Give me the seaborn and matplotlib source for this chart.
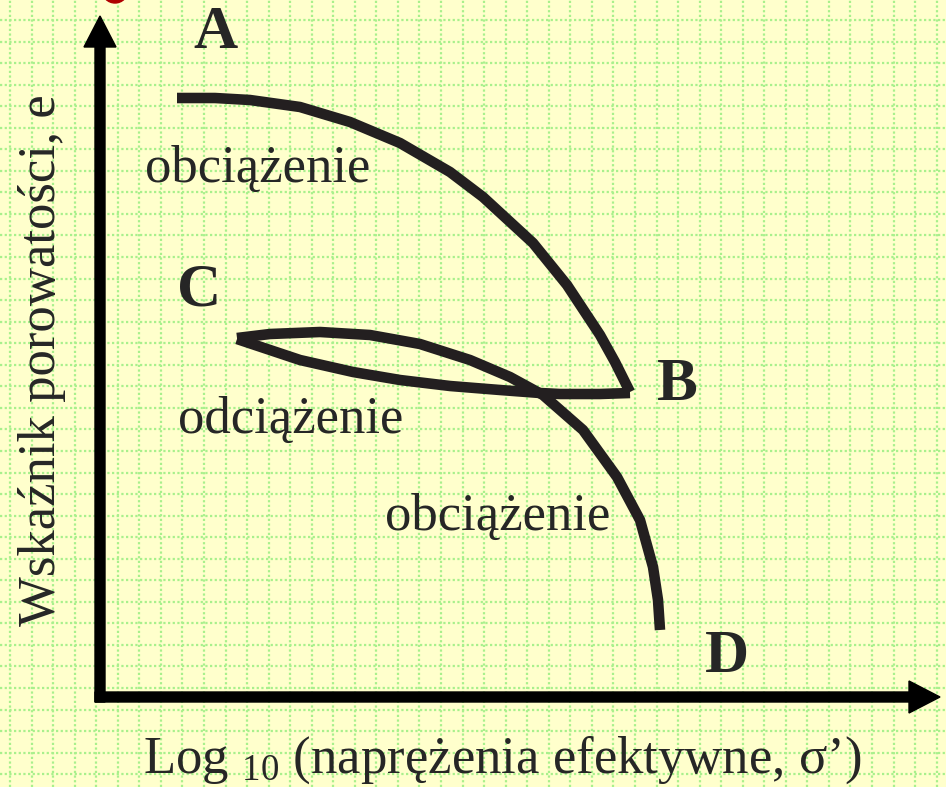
import numpy as np
import pandas as pd
import matplotlib
matplotlib.use("Agg")
import matplotlib.pyplot as plt
import seaborn as sns
from matplotlib.patches import Circle

# loading curve A -> B (log stress, void ratio)
ab_x = [0.77, 1.15, 1.50, 2.00, 2.50, 3.00, 3.50, 3.83, 4.33, 4.67, 5.00, 5.15, 5.30]
ab_y = [5.99, 5.99, 5.97, 5.90, 5.75, 5.54, 5.25, 5.00, 4.54, 4.12, 3.62, 3.35, 3.05]

# unloading B -> C
bc_x = [5.30, 5.00, 4.60, 4.40, 4.00, 3.50, 3.00, 2.53, 2.00, 1.70, 1.37]
bc_y = [3.04, 3.03, 3.03, 3.04, 3.07, 3.11, 3.17, 3.25, 3.37, 3.47, 3.58]

# reloading C -> D
cd_x = [1.37, 1.70, 2.20, 2.70, 3.20, 3.70, 4.10, 4.43, 4.83, 5.17, 5.40, 5.53, 5.58, 5.60]
cd_y = [3.59, 3.63, 3.65, 3.62, 3.53, 3.37, 3.20, 3.02, 2.67, 2.20, 1.77, 1.30, 0.97, 0.67]

point_labels = ["A", "B", "C", "D"]
point_x = [1.15, 5.77, 0.99, 6.27]
point_y = [6.49, 2.97, 3.92, 0.25]

curve_texts = ["obciążenie", "odciążenie", "obciążenie"]
curve_text_x = [0.45, 0.78, 2.85]
curve_text_y = [5.15, 2.64, 1.67]

xlabel = "Log $_{10}$ (naprężenia efektywne, σ’)"
ylabel = "Wskaźnik porowatości, e"

sns.set_style("white")
plt.rcParams["font.family"] = ["Liberation Serif", "DejaVu Serif"]
plt.rcParams["mathtext.fontset"] = "custom"
plt.rcParams["mathtext.rm"] = "Liberation Serif"
plt.rcParams["mathtext.it"] = "Liberation Serif"

bg = "#FFFFCC"
grid_col = "#A8F08C"
ink = "#231F20"

fig = plt.figure(figsize=(9.46, 7.87), dpi=100, facecolor=bg)
ax = fig.add_axes([0, 0, 1, 1])
ax.set_facecolor(bg)
ax.set_xlim(-1.00, 8.46)
ax.set_ylim(-0.90, 6.97)

# background graph-paper grid
ax.set_xticks(np.arange(-0.90, 8.46, 0.2155))
ax.set_yticks(np.arange(6.77, -0.90, -0.2155))
ax.tick_params(length=0, labelbottom=False, labelleft=False)
ax.grid(True, color=grid_col, linestyle=(0, (1, 1.1)), linewidth=1.6)
ax.set_axisbelow(True)
for s in ax.spines.values():
    s.set_visible(False)

curves = pd.concat([
    pd.DataFrame({"x": ab_x, "y": ab_y, "seg": "AB"}),
    pd.DataFrame({"x": bc_x, "y": bc_y, "seg": "BC"}),
    pd.DataFrame({"x": cd_x, "y": cd_y, "seg": "CD"}),
])
for seg, d in curves.groupby("seg"):
    sns.lineplot(data=d, x="x", y="y", sort=False, estimator=None, ax=ax,
                 color=ink, linewidth=7.6, solid_capstyle="butt",
                 solid_joinstyle="round", zorder=3)
ax.set_xlabel("")
ax.set_ylabel("")

# axis arrows
ax.arrow(0, -0.05, 0, 6.86, width=0.10, head_width=0.32, head_length=0.31,
         length_includes_head=True, color="black", zorder=4)
ax.arrow(-0.05, 0, 8.45, 0, width=0.10, head_width=0.32, head_length=0.31,
         length_includes_head=True, color="black", zorder=4)

ax.add_patch(Circle((0.15, 7.07), 0.13, color="#B00000", zorder=4, clip_on=True))

for lab, x, y in zip(point_labels, point_x, point_y):
    ax.text(x, y, lab, fontsize=44, fontweight="bold", ha="center", va="baseline")

for t, x, y in zip(curve_texts, curve_text_x, curve_text_y):
    ax.text(x, y, t, fontsize=38, ha="left", va="baseline")

ax.text(0.43, -0.76, xlabel, fontsize=38, ha="left", va="baseline")
ax.text(-0.45, 3.37, ylabel, fontsize=38, rotation=90, rotation_mode="anchor",
        ha="center", va="baseline")

fig.savefig("out.png", dpi=100, facecolor=bg)
